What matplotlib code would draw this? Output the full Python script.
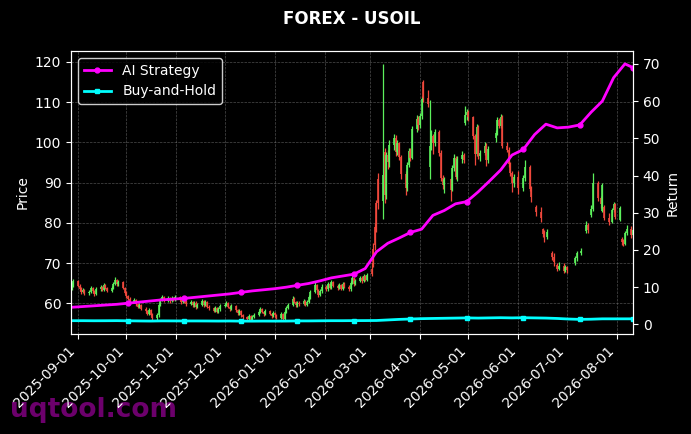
import numpy as np
import pandas as pd
import matplotlib
matplotlib.use("Agg")
import matplotlib.pyplot as plt
import matplotlib.dates as mdates

N = None
# ---- daily OHLC (business days 2025-08-28 .. 2026-08-11), one row per month ----
opens = [
    63.8, 64.6,
    65.5, 64.4, 63.6, 62.8, 63.3, 62.6, 62.9, 63.8, 63.1, 62.4, 63.5, 64.1, 63.4, 64.6, 63.9, 63.2, 63.8, 64.9, 65.8, 64.7, 65.3, 63.9,
    62.7, 61.8, 61.2, 60.4, 60.9, 59.8, 59.2, 59.6, 58.7, 58.1, 57.4, 58.3, 57.2, 56.4, 57.0, 59.6, 60.8, 61.5, 60.7, 61.3, 60.6, 61.4, 60.9,
    61.6, 61.0, 60.3, 61.1, 60.5, 59.8, 60.4, 59.5, 60.2, 59.1, 59.7, 60.5, 59.6, 60.3, 59.2, 58.8, 58.2, 58.9, 57.9, 58.5,
    59.3, 59.6, 60.1, 59.2, 58.6, 59.4, 58.3, 57.5, 58.1, 57.0, 56.6, 56.2, 56.9, 56.0, 56.7, 57.2, 57.8, 58.6, 57.9, 57.3, 58.0, 57.4, 56.9,
    57.5, 57.1, 56.5, 57.3, 56.2, 57.8, 58.9, 59.6, 61.2, 60.4, 59.5, 60.2, 59.8, 60.6, 59.7, 60.4, 61.5, 62.8, 64.6, 63.4, 62.1, 63.0,
    64.2, 63.5, 64.8, 63.9, 65.2, 64.4, 63.8, 64.6, 63.7, 64.9, 64.2, 63.5, 65.1, 66.2, 64.8, 65.6, 66.4, 65.5, 66.8, 65.9,
    68.5, 73.5, 79.0, 85.0, 91.0, 85.5, 97.5, 87.0, 96.8, 95.2, 99.4, 101.2, 97.6, 99.8, 96.3, 92.1, 88.7, 94.5, 97.9, 96.2, 103.4, 105.8,
    104.2, 106.5, 115.0, 111.0, 94.0, 99.0, 101.5, 99.8, 102.6, 97.4, 91.2, 89.5, N, 90.8, 88.2, 93.6, 96.1, 91.4, 95.8, 96.9, 104.8, 106.8,
    107.5, 106.2, 101.5, 97.2, 103.8, 96.5, 97.4, 99.2, 95.6, N, N, 101.0, 102.4, 105.6, 104.1, 106.3, 99.1, 98.2, 94.6, 92.3, 89.8,
    91.5, N, N, 88.6, 91.2, 93.8, 88.5, N, N, 84.0, 82.6, 78.5, 77.2, N, 76.5, 72.5, 71.5, N, 69.5, 68.6, 69.4, 68.1,
    69.0, N, N, 70.0, 71.2, N, N, 72.4, 78.0, 79.6, N, 82.0, 83.5, 89.8, N, 86.2, 83.0, 84.0, 81.2, N, 80.3, 83.1, 84.6,
    80.8, 76.0, 75.2, 74.8, 77.5, 78.6, 76.9,
]
highs = [
    65.2, 66.0,
    65.9, 64.8, 64.0, 63.8, 63.6, 63.4, 64.3, 64.1, 63.4, 64.0, 64.5, 64.4, 65.1, 64.9, 64.2, 64.3, 65.4, 66.5, 66.1, 65.7, 65.6, 64.2,
    63.0, 62.1, 61.5, 61.4, 61.2, 60.1, 60.1, 59.9, 59.0, 58.4, 58.8, 58.6, 57.5, 57.5, 60.0, 61.3, 62.0, 61.8, 61.8, 61.6, 61.9, 61.7, 62.1,
    61.9, 61.3, 61.6, 61.4, 60.8, 60.9, 60.7, 60.7, 60.5, 60.2, 61.0, 60.8, 60.8, 60.6, 59.5, 59.1, 59.4, 59.2, 59.0, 59.8,
    60.1, 60.6, 60.4, 59.5, 59.9, 59.7, 58.6, 58.6, 58.4, 57.3, 56.9, 57.4, 57.2, 57.2, 57.7, 58.3, 59.1, 58.9, 58.2, 58.5, 58.3, 57.7, 58.0,
    57.8, 57.4, 57.8, 57.6, 58.3, 59.4, 60.1, 61.8, 61.5, 60.7, 60.7, 60.5, 61.1, 60.9, 60.9, 62.0, 63.3, 65.3, 64.9, 63.7, 63.5, 64.7,
    64.5, 65.3, 65.1, 65.7, 65.5, 64.7, 65.1, 64.9, 65.4, 65.2, 64.5, 65.6, 66.8, 66.5, 66.1, 66.9, 66.7, 67.3, 67.1, 67.6,
    70.2, 75.0, 80.0, 85.6, 92.5, 119.5, 98.5, 97.5, 98.0, 100.5, 102.0, 101.8, 100.5, 100.2, 96.9, 93.0, 95.2, 98.5, 98.6, 104.0, 106.8, 106.5,
    107.2, 111.5, 115.5, 113.0, 110.5, 103.0, 102.2, 103.2, 103.0, 98.0, 92.0, 91.5, N, 91.2, 94.5, 97.2, 96.6, 96.5, 97.8, 97.4, 109.0, 108.4,
    108.0, 106.6, 102.0, 104.5, 104.2, 98.2, 100.0, 99.8, 99.0, N, N, 103.0, 106.2, 106.0, 107.0, 106.8, 100.0, 98.8, 95.2, 93.0, 92.2,
    93.0, N, N, 92.0, 95.5, 94.5, 89.2, N, N, 84.5, 84.0, 78.8, 78.2, N, 78.6, 73.0, 72.4, N, 70.0, 70.2, 70.0, 69.5,
    69.3, N, N, 71.8, 73.0, N, N, 73.8, 80.4, 80.0, N, 84.5, 92.3, 90.5, N, 86.8, 90.0, 84.5, 82.5, N, 83.6, 85.2, 85.0,
    84.2, 76.4, 76.0, 78.0, 79.5, 79.2, 78.8,
]
lows = [
    63.4, 64.2,
    64.0, 63.1, 62.3, 62.5, 62.1, 62.2, 62.6, 62.7, 61.9, 62.1, 63.0, 63.0, 63.2, 63.5, 62.8, 62.9, 63.5, 64.6, 64.3, 64.4, 63.5, 62.3,
    61.4, 60.8, 60.0, 60.1, 59.4, 58.8, 58.9, 58.3, 57.7, 57.0, 57.1, 56.8, 55.9, 55.6, 56.7, 59.3, 60.5, 60.3, 60.4, 60.2, 60.3, 60.5, 60.6,
    60.6, 59.9, 60.0, 60.1, 59.4, 59.5, 59.1, 59.2, 58.7, 58.8, 59.4, 59.2, 59.3, 58.8, 58.4, 57.8, 57.9, 57.5, 57.6, 58.2,
    59.0, 59.3, 58.8, 58.2, 58.3, 57.9, 57.1, 57.2, 56.6, 56.2, 55.8, 55.9, 55.6, 55.7, 56.4, 56.9, 57.5, 57.5, 56.9, 57.0, 57.0, 56.5, 56.6,
    56.7, 56.1, 56.2, 55.8, 55.9, 57.5, 58.6, 59.3, 60.0, 59.1, 59.2, 59.4, 59.5, 59.3, 59.4, 60.1, 61.2, 62.5, 63.0, 61.7, 61.8, 62.7,
    63.1, 63.2, 63.5, 63.6, 64.0, 63.4, 63.5, 63.3, 63.4, 63.8, 63.1, 63.2, 64.8, 64.4, 64.5, 65.3, 65.1, 65.2, 65.5, 65.6,
    66.8, 69.0, 73.2, 77.8, 83.5, 81.0, 85.0, 86.0, 93.5, 94.0, 98.0, 96.5, 96.8, 95.5, 91.0, 87.0, 88.0, 93.8, 95.4, 95.8, 102.6, 103.1,
    103.5, 105.8, 110.0, 108.8, 91.0, 98.2, 97.0, 99.0, 96.5, 90.5, 88.5, 87.5, N, 85.5, 87.8, 93.0, 90.8, 90.5, 95.0, 94.8, 104.2, 105.6,
    105.2, 100.8, 94.5, 96.5, 95.8, 95.4, 96.8, 94.2, 95.0, N, N, 100.2, 101.8, 103.5, 103.6, 98.5, 97.5, 94.0, 91.6, 87.6, 89.0,
    87.2, N, N, 88.0, 90.5, 87.8, 85.2, N, N, 81.8, 80.2, 76.5, 75.2, N, 76.0, 70.8, 69.4, N, 68.0, 68.2, 67.5, 67.8,
    67.6, N, N, 69.6, 70.6, N, N, 72.0, 77.5, 77.6, N, 81.5, 83.0, 85.5, N, 83.8, 82.6, 80.6, 79.4, N, 80.0, 82.6, 80.9,
    80.5, 74.4, 74.2, 74.5, 77.0, 76.2, 76.5,
]
closes = [
    64.6, 65.5,
    64.4, 63.6, 62.8, 63.3, 62.6, 62.9, 63.8, 63.1, 62.4, 63.5, 64.1, 63.4, 64.6, 63.9, 63.2, 63.8, 64.9, 65.8, 64.7, 65.3, 63.9, 62.7,
    61.8, 61.2, 60.4, 60.9, 59.8, 59.2, 59.6, 58.7, 58.1, 57.4, 58.3, 57.2, 56.4, 57.0, 59.6, 60.8, 61.5, 60.7, 61.3, 60.6, 61.4, 60.9, 61.6,
    61.0, 60.3, 61.1, 60.5, 59.8, 60.4, 59.5, 60.2, 59.1, 59.7, 60.5, 59.6, 60.3, 59.2, 58.8, 58.2, 58.9, 57.9, 58.5, 59.3,
    59.6, 60.1, 59.2, 58.6, 59.4, 58.3, 57.5, 58.1, 57.0, 56.6, 56.2, 56.9, 56.0, 56.7, 57.2, 57.8, 58.6, 57.9, 57.3, 58.0, 57.4, 56.9, 57.5,
    57.1, 56.5, 57.3, 56.2, 57.8, 58.9, 59.6, 61.2, 60.4, 59.5, 60.2, 59.8, 60.6, 59.7, 60.4, 61.5, 62.8, 64.6, 63.4, 62.1, 63.0, 64.2,
    63.5, 64.8, 63.9, 65.2, 64.4, 63.8, 64.6, 63.7, 64.9, 64.2, 63.5, 65.1, 66.2, 64.8, 65.6, 66.4, 65.5, 66.8, 65.9, 67.0,
    67.4, 70.2, 74.5, 79.0, 85.0, 92.0, 87.0, 96.8, 95.2, 99.4, 101.2, 97.6, 99.8, 96.3, 92.1, 88.7, 94.5, 97.9, 96.2, 103.4, 105.8, 104.2,
    106.5, 110.8, 111.0, 109.5, 99.0, 101.5, 99.8, 102.6, 97.4, 91.2, 89.5, 90.8, N, 88.2, 93.6, 96.1, 91.4, 95.8, 96.9, 95.5, 106.8, 107.5,
    106.2, 101.5, 97.2, 103.8, 96.5, 97.4, 99.2, 95.6, 98.4, N, N, 102.4, 105.6, 104.1, 106.3, 99.1, 98.2, 94.6, 92.3, 89.8, 91.5,
    88.6, N, N, 91.2, 93.8, 88.5, 86.4, N, N, 82.6, 81.3, 77.2, 76.5, N, 77.8, 71.5, 70.2, N, 68.6, 69.4, 68.1, 69.0,
    68.3, N, N, 71.2, 72.4, N, N, 73.1, 79.6, 78.2, N, 83.5, 89.8, 86.2, N, 84.6, 89.5, 81.2, 80.3, N, 83.1, 84.6, 81.5,
    83.6, 75.2, 74.8, 77.5, 78.6, 76.9, 78.2,
]

# ---- weekly strategy curves (right axis) ----
ai_returns = [
    4.6, 4.8, 5.0, 5.2, 5.4, 5.7, 6.0, 6.3, 6.6, 6.8,
    7.0, 7.3, 7.6, 7.9, 8.2, 8.6, 9.0, 9.3, 9.6, 10.0,
    10.5, 11.0, 11.7, 12.5, 13.0, 13.5, 15.0, 19.5, 21.8, 23.2,
    24.7, 25.6, 29.3, 30.6, 32.4, 33.0, 35.6, 38.5, 41.5, 45.5,
    47.0, 51.0, 53.8, 52.8, 53.0, 53.6, 57.0, 60.0, 66.3, 70.0,
    69.0,
]
bh_returns = [
    1.00, 1.00, 0.98, 0.99, 1.01, 0.97, 0.93, 0.90, 0.95, 0.94,
    0.93, 0.93, 0.92, 0.90, 0.92, 0.88, 0.88, 0.90, 0.89, 0.90,
    0.94, 0.94, 0.97, 1.00, 1.00, 1.02, 1.03, 1.05, 1.20, 1.35,
    1.45, 1.55, 1.60, 1.65, 1.70, 1.75, 1.70, 1.75, 1.80, 1.75,
    1.80, 1.75, 1.70, 1.60, 1.45, 1.35, 1.40, 1.50, 1.50, 1.50,
    1.50,
]

dates = pd.bdate_range("2025-08-28", "2026-08-11")
line_dates = list(pd.date_range("2025-08-28", periods=50, freq="7D")) + [pd.Timestamp("2026-08-11")]

o = np.array(opens, dtype=float)
h = np.array(highs, dtype=float)
l = np.array(lows, dtype=float)
c = np.array(closes, dtype=float)
mask = ~np.isnan(c)
GREEN = "#5cf05c"
RED = "#f0483c"
cols = np.where(c >= o, GREEN, RED)

fig = plt.figure(figsize=(6.91, 4.34), dpi=100, facecolor="black")
ax1 = fig.add_axes([71 / 691, 1 - 334 / 434, (633 - 71) / 691, (334 - 51) / 434])
ax1.set_facecolor("black")

d = dates[mask]
ax1.vlines(d, l[mask], h[mask], colors=cols[mask], linewidth=0.9)
ax1.vlines(d, np.minimum(o, c)[mask], np.maximum(o, c)[mask], colors=cols[mask], linewidth=1.2)

ax1.grid(True, linestyle="--", linewidth=0.5, color="gray", alpha=0.6)
ax1.set_ylabel("Price", color="white", fontsize=10)
ax1.tick_params(colors="white", labelsize=10)
for s in ax1.spines.values():
    s.set_color("white")

ax2 = ax1.twinx()
ax2.plot(line_dates, ai_returns, color="#ff00ff", linewidth=2, marker="o", markersize=3.5,
         markevery=(5, 5), label="AI Strategy")
ax2.plot(line_dates, bh_returns, color="#00ffff", linewidth=2, marker="s", markersize=3.5,
         markevery=(5, 5), label="Buy-and-Hold")
ax2.set_ylabel("Return", color="white", fontsize=10)
ax2.tick_params(colors="white", labelsize=10)
for s in ax2.spines.values():
    s.set_color("white")

ax1.set_xlim(dates[0] - pd.Timedelta(hours=8), dates[-1])
ax1.xaxis.set_major_locator(mdates.MonthLocator())
ax1.xaxis.set_major_formatter(mdates.DateFormatter("%Y-%m-%d"))
plt.setp(ax1.get_xticklabels(), rotation=45, ha="right")

leg = ax2.legend(loc="upper left", facecolor="black", edgecolor="white", fontsize=10)
for t in leg.get_texts():
    t.set_color("white")

ax1.set_title("FOREX - USOIL", color="white", fontsize=12, fontweight="bold", pad=19.5)

fig.text(10 / 691, 1 - 417 / 434, "uqtool.com", fontsize=19, fontweight="bold",
         color="purple", alpha=0.85, zorder=-1)

fig.savefig("out.png", dpi=100, facecolor="black")
